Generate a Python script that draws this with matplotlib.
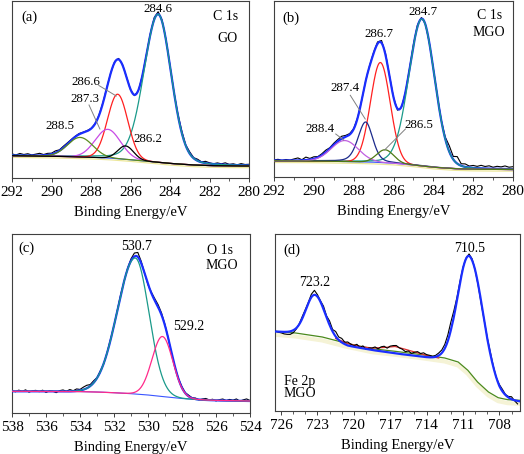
import numpy as np
import matplotlib
matplotlib.use("Agg")
import matplotlib.pyplot as plt
from matplotlib.ticker import MultipleLocator
import matplotlib.transforms as mtransforms

plt.rcParams['font.family'] = ['Liberation Serif', 'DejaVu Serif']

# ---------------- Panel (a): C 1s, GO ----------------
a_bg_x = [292, 290, 288, 287, 286, 285, 284, 283, 282, 281, 280]
a_bg_y = [22.3, 21.8, 20.8, 19.8, 18.3, 16.5, 14.6, 13.2, 12.4, 12.1, 12.0]
a_labels = ["284.6", "286.6", "287.3", "288.5", "286.2"]
a_centers = [284.6, 286.65, 287.15, 288.55, 286.25]
a_amps = [148, 64.5, 28.7, 19.5, 13.4]
a_hwhm_l = [0.85, 0.6, 0.75, 0.75, 0.47]
a_hwhm_r = [0.78, 0.6, 0.75, 0.75, 0.47]
a_eta = [0.15, 0.0, 0.0, 0.0, 0.0]
a_raw_resid = [1.5, 0.5, 2.0, 1.0, 1.8, 0.6, 1.4, 2.2, 0.8, 1.6, 1.0, 2.0, 0.9, 1.5, 1.2, 0.8,
               0.6, 0.8, 0.4, 0.5, 0.3, 0.2, 0.4, 0.6, 0.5, 0.3, 0.8, 1.0, 0.6, 0.2, -0.3,
               -0.8, -0.5, 0.2, 0.6, 1.2, 2.0, 2.5, 1.5, 0.8, 0.5, 0.3, 1.5, 2.2, 0.8, 1.8,
               0.6, 1.6, 0.4, 1.8, 0.9, 0.3, 1.4, 0.7, 1.9, 0.5, 1.2, 0.3, 1.6, 0.8, 1.1]

# ---------------- Panel (b): C 1s, MGO ----------------
b_bg_x = [292, 290, 288, 287, 286, 285, 284, 283, 282, 281, 280]
b_bg_y = [16.2, 16.0, 15.3, 14.8, 13.8, 12.0, 9.8, 8.4, 7.8, 7.6, 7.5]
b_labels = ["284.7", "286.7", "287.4", "288.4", "286.5"]
b_centers = [284.57, 286.66, 287.4, 288.45, 286.42]
b_amps = [147, 100, 40, 21, 13]
b_hwhm_l = [0.78, 0.58, 0.45, 0.8, 0.5]
b_hwhm_r = [0.75, 0.58, 0.42, 0.8, 0.5]
b_eta = [0.1, 0.0, 0.3, 0.0, 0.0]
b_raw_resid = [0.5, 1.2, 0.2, 1.0, 0.4, 1.5, 2.5, 0.6, 3.0, 1.2, 2.0, 0.8, 1.5, 2.2, 1.0, 1.6,
               1.8, 2.5, 1.5, 1.0, 0.5, 0.3, -0.2, 0.3, 0.5, 1.0, 1.8, 2.5, 1.5, 0.5, 0.0,
               -1.5, -1.0, 0.0, 0.8, 1.5, 1.8, 1.2, 0.5, 0.2, 0.6, 1.0, 0.5, 2.0, 6.0, 3.0,
               7.0, 2.0, 3.0, 1.5, 2.5, 1.8, 3.0, 2.0, 2.8, 1.5, 2.5, 2.0, 3.0, 1.8, 2.4]

# ---------------- Panel (c): O 1s, MGO ----------------
c_bg_x = [538, 536, 534, 533, 532, 531, 530, 529, 528, 527, 526, 524]
c_bg_y = [21.7, 21.6, 21.4, 21.0, 20.3, 19.3, 18.0, 16.2, 14.5, 13.3, 12.6, 12.0]
c_labels = ["530.7", "529.2"]
c_centers = [530.75, 529.15]
c_amps = [136, 60]
c_hwhm_l = [1.24, 0.72]
c_hwhm_r = [0.95, 0.72]
c_eta = [0.0, 0.0]
c_raw_resid = [0.8, -0.5, 1.2, 0.0, 1.5, -0.8, 0.6, 1.0, -0.3, 1.2, -1.0, 0.5, 0.2, -1.2, 0.8, 1.5,
               0.2, 1.8, 0.5, 2.0, 1.0, 2.5, 3.0, 1.5, 2.0, 0.5, 1.0, -0.5, 0.5, 1.0, 0.0,
               0.5, 1.0, 0.0, 1.0, 2.0, 3.5, 4.5, 2.0, 0.0, -1.0, 1.0, 2.0, 2.5, 2.0, 1.0,
               0.0, -1.0, -0.5, 0.5, 1.0, 0.5, 1.2, 0.3, 1.0, -0.3, 0.8, 1.5, 0.2, 1.0, -0.5,
               0.8, 1.5, 0.0, 1.2, 0.5, 1.8, -0.3, 1.0, 2.0, 0.5]

# ---------------- Panel (d): Fe 2p, MGO ----------------
d_bg_x = [726.5, 725.0, 723.5, 722.0, 720.5, 718.5, 716.5, 714.5, 713.0, 712.0, 711.0, 710.0, 709.0, 708.0, 707.0, 706.3]
d_bg_y = [79.5, 78.5, 76.0, 71.5, 65.3, 61.0, 57.5, 54.5, 52.3, 50.0, 44.0, 33.0, 20.0, 13.0, 10.5, 9.5]
d_labels = ["723.2", "710.5"]
d_centers = [723.2, 710.45]
d_amps = [41, 116.7]
d_hwhm_l = [0.88, 1.12]
d_hwhm_r = [0.98, 1.35]
d_eta = [0.0, 0.0]
d_green_x = [726.5, 724.8, 722.6, 720.7, 718.5, 716.6, 714.4, 712.5, 711.4, 710.6, 709.8, 708.9, 708.1, 707.3, 706.3]
d_green_y = [79.7, 78.0, 74.0, 68.0, 62.3, 59.7, 56.3, 53.0, 49.0, 40.7, 29.0, 19.0, 13.3, 11.3, 10.7]
d_red_x = [721.5, 720.5, 719.5, 718.5, 717.5, 716.6, 715.7, 714.7, 713.8, 713.0]
d_red_y = [72.5, 67.5, 64.5, 63.0, 63.5, 64.5, 61.5, 58.0, 55.0, 53.0]
d_raw_resid = [0.5, -0.5, -1.0, -2.0, -2.5, -3.0, -2.5, -1.0,
               0.5, 2.0, 1.5, 1.0, 3.0, 4.5, 2.0, 1.0,
               3.0, 1.5, 4.0, 2.0, 5.0, 3.0, 4.0, 2.0,
               3.5, 2.0, 1.0, 3.0, 0.5, 2.5, -0.5, 1.5,
               2.0, 3.5, 2.0, 4.5, 5.5, 4.0, 6.5, 7.5,
               8.0, 6.0, 5.0, 3.0, 4.0, 2.0, 3.5, 4.5,
               3.0, 4.0, 2.5, 2.0, 1.0, 1.5, 2.5, 3.0,
               4.0, 6.0, 8.0, 6.0, 3.0, 2.0, 1.0, 0.5,
               2.0, 1.5, 0.0, -1.0, -2.0, 0.0, 1.0, 2.0,
               1.0, 0.0, 1.5, 2.0, 0.5, 1.0, 2.5, -0.5,
               -3.0]

# ---------------- style ----------------
ENV = '#1a2eff'
BASE_BLUE = '#3a55ff'
YELLOW = '#ece79a'
SPINE = '#404040'
TICK_FS = 11
LABEL_FS = 10.5
ANN_FS = 9.3
TAG_FS = 10.5


def peak(x, c, a, hl, hr, eta):
    h = np.where(x > c, hl, hr)
    u = ((x - c) / h) ** 2
    g = np.exp(-np.log(2) * u)
    l = 1.0 / (1.0 + u)
    return a * ((1 - eta) * g + eta * l)


def envelope(x, bgx, bgy, centers, amps, hl, hr, eta):
    y = np.interp(x, bgx[::-1], bgy[::-1])
    for i in range(len(centers)):
        y = y + peak(x, centers[i], amps[i], hl[i], hr[i], eta[i])
    return y


def style_axes(ax, xlim, ylim, major, minor):
    ax.set_xlim(*xlim)
    ax.set_ylim(*ylim)
    ax.set_yticks([])
    ax.xaxis.set_major_locator(MultipleLocator(major))
    ax.xaxis.set_minor_locator(MultipleLocator(minor))
    ax.tick_params(axis='x', which='major', direction='out', length=3, width=0.7,
                   labelsize=TICK_FS, pad=3, colors=SPINE, labelcolor='black')
    ax.tick_params(axis='x', which='minor', direction='out', length=2, width=0.6, colors=SPINE)
    for s in ax.spines.values():
        s.set_color(SPINE)
        s.set_linewidth(0.8)
    ax.set_xlabel('Binding Energy/eV', fontsize=LABEL_FS, labelpad=5)


def shifted(ax, fig, dy):
    return mtransforms.offset_copy(ax.transData, fig=fig, x=0, y=dy, units='points')


fig = plt.figure(figsize=(5.24, 4.54), dpi=100)

# ---------- (a) ----------
ax = fig.add_axes([12 / 524, 1 - 178 / 454, 237 / 524, 177 / 454])
xs = np.linspace(292, 280, 1500)
bg = np.interp(xs, a_bg_x[::-1], a_bg_y[::-1])
env = envelope(xs, a_bg_x, a_bg_y, a_centers, a_amps, a_hwhm_l, a_hwhm_r, a_eta)
xr = np.linspace(292, 280, len(a_raw_resid))
raw = envelope(xr, a_bg_x, a_bg_y, a_centers, a_amps, a_hwhm_l, a_hwhm_r, a_eta) + np.array(a_raw_resid)
a_colors = ['#1a9a8a', '#ff2020', '#c84be6', '#5b8c1e', '#000000']
ax.plot(a_bg_x, a_bg_y, color=YELLOW, lw=0.9, transform=shifted(ax, fig, -1.2), zorder=1)
ax.plot(xr, raw, color='black', lw=0.8, zorder=2)
ax.plot(xs, env, color=ENV, lw=1.6, zorder=3)
ax.plot(a_bg_x, a_bg_y, color=BASE_BLUE, lw=0.8, zorder=3)
for i in range(len(a_centers)):
    ax.plot(xs, bg + peak(xs, a_centers[i], a_amps[i], a_hwhm_l[i], a_hwhm_r[i], a_eta[i]),
            color=a_colors[i], lw=0.9, zorder=4)
ann_a = [(284.6, 169), (288.27, 96), (288.3, 79), (289.57, 52), (285.1, 39)]
for lab, (ex, ey) in zip(a_labels, ann_a):
    ax.text(ex, ey, lab, fontsize=ANN_FS, ha='center', va='center', zorder=6)
ax.plot([287.6, 286.72], [92.5, 82], color='#808080', lw=0.7, zorder=5)
ax.plot([288.1, 287.55], [73, 49], color='#808080', lw=0.7, zorder=5)
style_axes(ax, (292, 280), (0, 177), 2, 1)
ax.text(0.072, 0.91, '(a)', transform=ax.transAxes, fontsize=TAG_FS, ha='center', va='center')
ax.text(0.90, 0.915, 'C 1s', transform=ax.transAxes, fontsize=10, ha='center', va='center')
ax.text(0.91, 0.79, 'GO', transform=ax.transAxes, fontsize=10, ha='center', va='center')

# ---------- (b) ----------
ax = fig.add_axes([274 / 524, 1 - 177 / 454, 239 / 524, 176 / 454])
bg = np.interp(xs, b_bg_x[::-1], b_bg_y[::-1])
env = envelope(xs, b_bg_x, b_bg_y, b_centers, b_amps, b_hwhm_l, b_hwhm_r, b_eta)
xr = np.linspace(292, 280, len(b_raw_resid))
raw = envelope(xr, b_bg_x, b_bg_y, b_centers, b_amps, b_hwhm_l, b_hwhm_r, b_eta) + np.array(b_raw_resid)
b_colors = ['#1a9a8a', '#ff2020', '#1c2a8c', '#c060e0', '#4d7a14']
ax.plot(b_bg_x, b_bg_y, color=YELLOW, lw=0.9, transform=shifted(ax, fig, -1.2), zorder=1)
ax.plot(xr, raw, color='black', lw=0.8, zorder=2)
ax.plot(xs, env, color=ENV, lw=1.6, zorder=3)
ax.plot(b_bg_x, b_bg_y, color=BASE_BLUE, lw=0.8, zorder=3)
for i in range(len(b_centers)):
    ax.plot(xs, bg + peak(xs, b_centers[i], b_amps[i], b_hwhm_l[i], b_hwhm_r[i], b_eta[i]),
            color=b_colors[i], lw=0.9, zorder=4)
ann_b = [(284.52, 165), (286.74, 143), (288.44, 89), (289.69, 48), (284.74, 52)]
for lab, (ex, ey) in zip(b_labels, ann_b):
    ax.text(ex, ey, lab, fontsize=ANN_FS, ha='center', va='center', zorder=6)
ax.plot([288.17, 287.42], [81.7, 58], color='#808080', lw=0.7, zorder=5)
ax.plot([288.9, 288.5], [43, 37], color='#808080', lw=0.7, zorder=5)
ax.plot([285.4, 286.45], [48, 27], color='#808080', lw=0.7, zorder=5)
style_axes(ax, (292, 280), (0, 176), 2, 1)
ax.text(0.071, 0.90, '(b)', transform=ax.transAxes, fontsize=TAG_FS, ha='center', va='center')
ax.text(0.90, 0.92, 'C 1s', transform=ax.transAxes, fontsize=10, ha='center', va='center')
ax.text(0.90, 0.82, 'MGO', transform=ax.transAxes, fontsize=10, ha='center', va='center')

# ---------- (c) ----------
ax = fig.add_axes([12 / 524, 1 - 413 / 454, 238 / 524, 179 / 454])
xs = np.linspace(538, 524, 1500)
bg = np.interp(xs, c_bg_x[::-1], c_bg_y[::-1])
env = envelope(xs, c_bg_x, c_bg_y, c_centers, c_amps, c_hwhm_l, c_hwhm_r, c_eta)
xr = np.linspace(538, 524, len(c_raw_resid))
raw = envelope(xr, c_bg_x, c_bg_y, c_centers, c_amps, c_hwhm_l, c_hwhm_r, c_eta) + np.array(c_raw_resid)
c_colors = ['#1a9a8a', '#ff2a8a']
ax.plot(xr, raw, color='black', lw=0.8, zorder=2)
ax.plot(xs, env, color=ENV, lw=1.6, zorder=3)
ax.plot(c_bg_x, c_bg_y, color=BASE_BLUE, lw=0.8, zorder=3)
for i in range(len(c_centers)):
    ax.plot(xs, bg + peak(xs, c_centers[i], c_amps[i], c_hwhm_l[i], c_hwhm_r[i], c_eta[i]),
            color=c_colors[i], lw=0.9, zorder=4)
ann_c = [(530.67, 166), (527.63, 86)]
for lab, (ex, ey) in zip(c_labels, ann_c):
    ax.text(ex, ey, lab, fontsize=ANN_FS + 0.7, ha='center', va='center', zorder=6)
style_axes(ax, (538, 524), (0, 179), 2, 1)
ax.text(0.062, 0.918, '(c)', transform=ax.transAxes, fontsize=TAG_FS, ha='center', va='center')
ax.text(0.874, 0.91, 'O 1s', transform=ax.transAxes, fontsize=10, ha='center', va='center')
ax.text(0.88, 0.825, 'MGO', transform=ax.transAxes, fontsize=10, ha='center', va='center')

# ---------- (d) ----------
ax = fig.add_axes([275 / 524, 1 - 411 / 454, 245 / 524, 177 / 454])
xs = np.linspace(726.5, 706.3, 1500)
env = envelope(xs, d_bg_x, d_bg_y, d_centers, d_amps, d_hwhm_l, d_hwhm_r, d_eta)
xr = np.linspace(726.5, 706.5, len(d_raw_resid))
raw = envelope(xr, d_bg_x, d_bg_y, d_centers, d_amps, d_hwhm_l, d_hwhm_r, d_eta) + np.array(d_raw_resid)
ax.plot(d_green_x, d_green_y, color='#f5f3d6', lw=3.0, transform=shifted(ax, fig, -2.5), zorder=1)
ax.plot(d_green_x, d_green_y, color='#4b8a1c', lw=0.9, zorder=2)
ax.plot(d_red_x, d_red_y, color='#e03030', lw=0.9, zorder=2)
ax.plot(xr, raw, color='black', lw=0.8, zorder=3)
ax.plot(xs, env, color=ENV, lw=1.6, zorder=4)
ann_d = [(723.2, 129), (710.44, 163)]
for lab, (ex, ey) in zip(d_labels, ann_d):
    ax.text(ex, ey, lab, fontsize=ANN_FS + 0.7, ha='center', va='center', zorder=6)
style_axes(ax, (726.5, 706.3), (0, 177), 3, 1)
ax.text(0.069, 0.91, '(d)', transform=ax.transAxes, fontsize=TAG_FS, ha='center', va='center')
ax.text(0.035, 0.164, 'Fe 2p', transform=ax.transAxes, fontsize=10, ha='left', va='center')
ax.text(0.035, 0.098, 'MGO', transform=ax.transAxes, fontsize=10, ha='left', va='center')

fig.savefig('out.png', dpi=100)
